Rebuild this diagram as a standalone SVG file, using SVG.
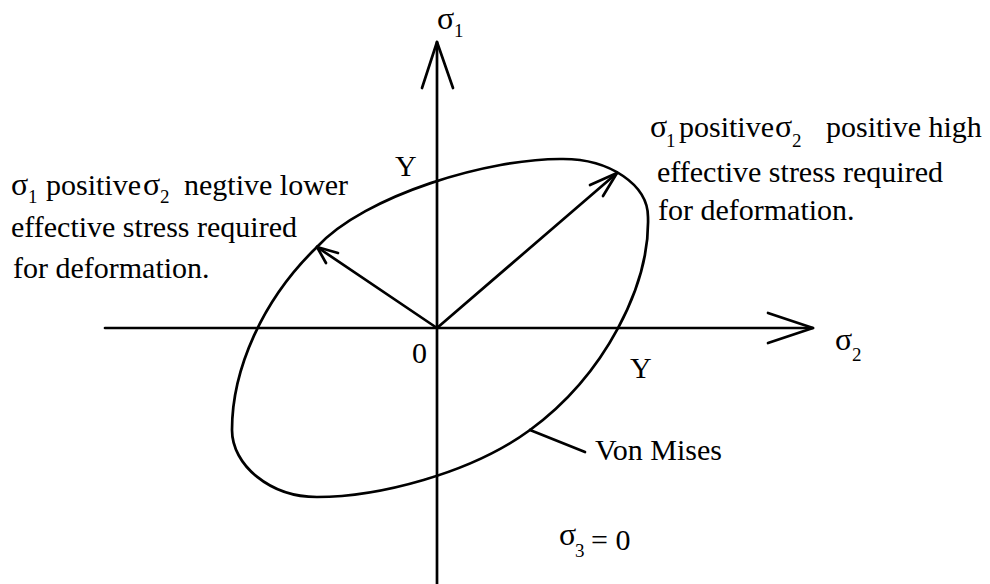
<svg xmlns="http://www.w3.org/2000/svg" width="990" height="584" viewBox="0 0 990 584">
<style>
.t{font-family:"Liberation Serif","Times New Roman",Times,serif;font-size:30px;fill:#000}
.g{font-size:32px}
.s{font-size:19px}
.ln{stroke:#000;stroke-width:2.7;fill:none;stroke-linecap:round;stroke-linejoin:round}
</style>
<rect width="990" height="584" fill="#fff"/>
<g id="connectors">
<line class="ln" x1="437" y1="42" x2="437" y2="584"/>
<polyline class="ln" points="422,88 437,42 453,88"/>
<line class="ln" x1="105" y1="328" x2="813" y2="328"/>
<polyline class="ln" points="768,313 813,328 768,343"/>
<line class="ln" x1="437" y1="328" x2="617" y2="173"/>
<polyline class="ln" points="590,185 617,173 603,196"/>
<line class="ln" x1="437" y1="328" x2="317" y2="247"/>
<polyline class="ln" points="338,253 317,247 326,263"/>
<line class="ln" x1="530" y1="430" x2="585" y2="452"/>
</g>
<g id="von-mises-locus">
<path class="ln" d="M563,159 C610,159 648,185 648,217 C650,285 605,375 530,430 C470,474 377,497 317,497 C270,497 232,465 232,430 C232,370 262,300 317,247 C365,195 490,158 563,159 Z"/>
</g>
<g id="labels">
<text class="t" x="437" y="29"><tspan class="g">σ</tspan><tspan class="s" x="454" y="37">1</tspan></text>
<text class="t" x="835" y="350"><tspan class="g">σ</tspan><tspan class="s" x="852" y="361">2</tspan></text>
<text class="t" x="395" y="176">Y</text>
<text class="t" x="630" y="378">Y</text>
<text class="t" x="412" y="363">0</text>
<text class="t" x="595" y="460">Von Mises</text>
<text class="t" x="559" y="545"><tspan class="g">σ</tspan><tspan class="s" x="575" y="557">3</tspan><tspan x="591" y="550">= 0</tspan></text>
</g>
<g id="note-left">
<text class="t" x="11" y="195"><tspan class="g">σ</tspan><tspan class="s" x="28" y="203">1</tspan><tspan x="46" y="195">positive</tspan><tspan class="g" x="143">σ</tspan><tspan class="s" x="160" y="203">2</tspan><tspan x="184" y="195">negtive lower</tspan></text>
<text class="t" x="11" y="237">effective stress required</text>
<text class="t" x="13" y="278">for deformation.</text>
</g>
<g id="note-right">
<text class="t" x="650" y="137"><tspan class="g">σ</tspan><tspan class="s" x="666" y="147">1</tspan><tspan x="679" y="137">positive</tspan><tspan class="g" x="775">σ</tspan><tspan class="s" x="792" y="147">2</tspan><tspan x="826" y="137">positive high</tspan></text>
<text class="t" x="657" y="182">effective stress required</text>
<text class="t" x="658" y="220">for deformation.</text>
</g>
</svg>
